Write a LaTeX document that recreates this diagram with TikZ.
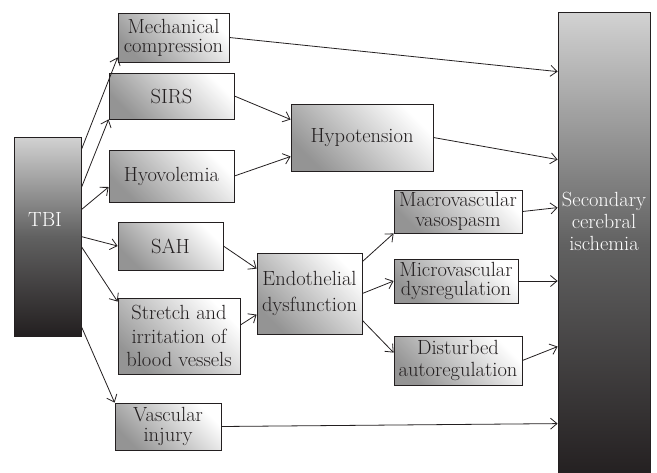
\documentclass[tikz,border=0pt]{standalone}
\usetikzlibrary{arrows.meta}
\usetikzlibrary{calc}
\definecolor{inkdark}{RGB}{35,31,32}
\definecolor{inklight}{RGB}{210,210,210}

\begin{document}
\begin{tikzpicture}[x=1pt,y=-1pt,>={Straight Barb[length=6.5pt,width=11pt]},
	box/.style={draw=inkdark,line width=0.8pt,inner sep=0pt,align=center,text=inkdark,
		font=\fontsize{20.5}{22}\selectfont,
		top color=white,bottom color=black!42,shading angle=-45},
	bigbox/.style={draw=inkdark,line width=0.8pt,inner sep=0pt,
		top color=inklight,bottom color=inkdark,middle color=black!62},
	whitetext/.style={text=white,align=center,font=\fontsize{20.5}{22}\selectfont},
	linesep/.style={font=\fontsize{20.5}{#1}\selectfont},
	conn/.style={->,line width=0.8pt,draw=inkdark}]
	\useasboundingbox (0,0) rectangle (657,472);
	
	%big boxes
	\node[bigbox,minimum width=67pt,minimum height=199pt] (tbi) at (47.5,236.5) {};
	\node[bigbox,minimum width=92pt,minimum height=466pt] (sci) at (604,245) {};
	\node[whitetext] (tbilabel) at (45,219) {TBI};
	\node[whitetext] (scilabel) at (604,221) {Secondary\\cerebral\\ischemia};
	
	%first column
	\node[box,linesep=19,minimum width=111pt,minimum height=49pt] (mech) at (173.5,37.5) {Mechanical\\compression};
	\node[box,minimum width=125pt,minimum height=46pt] (sirs) at (171.5,96) {SIRS};
	\node[box,minimum width=125pt,minimum height=52pt] (hyo) at (171.5,176) {Hyovolemia};
	\node[box,minimum width=105pt,minimum height=48pt] (sah) at (170.5,246) {SAH};
	\node[box,linesep=23.5,minimum width=122pt,minimum height=76pt] (stretch) at (179,336) {Stretch and\\irritation of\\blood vessels};
	\node[box,linesep=20,minimum width=106pt,minimum height=47pt] (vasc) at (168,426.5) {Vascular\\injury};
	
	%middle column
	\node[box,minimum width=142pt,minimum height=67pt] (hypo) at (362,137.5) {Hypotension};
	\node[box,linesep=26,minimum width=105pt,minimum height=81pt] (endo) at (309.5,293.5) {Endothelial\\dysfunction};
	
	%third column
	\node[box,linesep=20,minimum width=128pt,minimum height=43pt] (macro) at (458,211.5) {Macrovascular\\vasospasm};
	\node[box,linesep=19.5,minimum width=124pt,minimum height=44pt] (micro) at (456,281) {Microvascular\\dysregulation};
	\node[box,linesep=22,minimum width=128pt,minimum height=49pt] (dist) at (458,360.5) {Disturbed\\autoregulation};
	
	%arrows out of TBI
	\draw[conn] ($(tbi.north east)+(0,13)$) -- ($(mech.south west)+(0,-5)$);
	\draw[conn] ($(tbi.north east)+(0,51)$) -- (sirs.south west);
	\draw[conn] ($(tbi.north east)+(0,73)$) -- ($(hyo.west)+(0,11)$);
	\draw[conn] ($(tbi.north east)+(0,100)$) -- (sah.west);
	\draw[conn] ($(tbi.north east)+(0,110)$) -- ($(stretch.north west)+(0,4)$);
	\draw[conn] ($(tbi.north east)+(0,190)$) -- (vasc.north west);
	
	%into hypotension and endothelial dysfunction
	\draw[conn] (sirs.east) -- ($(hypo.west)+(0,-18)$);
	\draw[conn] (hyo.east) -- ($(hypo.west)+(0,19)$);
	\draw[conn] (sah.east) -- ($(endo.north west)+(0,16)$);
	\draw[conn] ($(stretch.east)+(0,-11)$) -- ($(endo.north west)+(0,62)$);
	
	%out of endothelial dysfunction
	\draw[conn] ($(endo.north east)+(0,9)$) -- (macro.south west);
	\draw[conn] (endo.east) -- (micro.west);
	\draw[conn] ($(endo.south east)+(0,-14)$) -- ($(dist.north west)+(0,17)$);
	
	%into secondary cerebral ischemia
	\draw[conn] (mech.east) -- ($(sci.north west)+(0,60)$);
	\draw[conn] (hypo.east) -- ($(sci.north west)+(0,148)$);
	\draw[conn] (macro.east) -- ($(sci.north west)+(0,196)$);
	\draw[conn] (micro.east) -- (micro.east -| sci.west);
	\draw[conn] (dist.east) -- ($(sci.north west)+(0,335)$);
	\draw[conn] (vasc.east) -- ($(sci.north west)+(0,412)$);
\end{tikzpicture}
\end{document}
